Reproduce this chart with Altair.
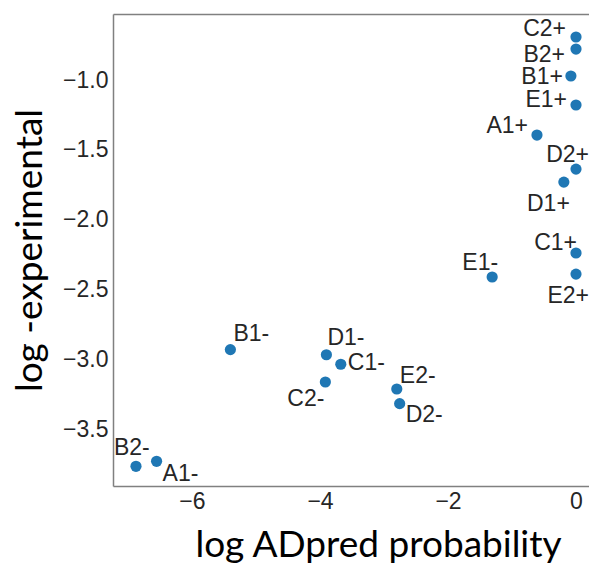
import altair as alt
import pandas as pd

# ---- data ----
labels = ["C2+", "B2+", "B1+", "E1+", "A1+", "D2+", "D1+", "C1+", "E2+",
          "E1-", "B1-", "D1-", "C1-", "C2-", "E2-", "D2-", "B2-", "A1-"]
adpred = [0.0, 0.0, -0.08, 0.0, -0.61, 0.0, -0.19, 0.0, 0.0,
          -1.31, -5.40, -3.90, -3.675, -3.916, -2.80, -2.755, -6.875, -6.553]
experimental = [-0.692, -0.778, -0.971, -1.179, -1.394, -1.638, -1.731, -2.239, -2.390,
                -2.411, -2.931, -2.968, -3.036, -3.163, -3.213, -3.318, -3.767, -3.731]

x_ticks = [-6, -4, -2, 0]
y_ticks = [-3.5, -3.0, -2.5, -2.0, -1.5, -1.0]

# label placement relative to each point (align, dx px, dy px to text baseline)
label_align = ["right", "right", "right", "right", "right", "right", "right", "right", "right",
               "right", "left", "left", "left", "right", "left", "left", "left", "left"]
label_dx = [-10, -11, -8, -9, -9, 13, 6, 1, 13,
            6, 3, 1, 7, -1, 3, 6, -22, 6]
label_dy = [-1, 13, 8, 2, -2, -7, 29, -3, 29,
            -7, -9, -10, 6, 24, -6, 18, -11, 20]

df = pd.DataFrame({"label": labels, "x": adpred, "y": experimental})

xscale = alt.Scale(domain=[-7.234, 0.203], nice=False, zero=False)
yscale = alt.Scale(domain=[-3.908, -0.527], nice=False, zero=False)

AXIS_GRAY = "#808080"
TEXT_COLOR = "#262626"
LABEL_SIZE = 23

base = alt.Chart(df)

points = base.mark_circle(size=125, opacity=1, color="#1f77b4").encode(
    x=alt.X("x:Q", scale=xscale, axis=alt.Axis(
        orient="bottom", values=x_ticks, format="d", ticks=False, grid=False,
        domainColor=AXIS_GRAY, domainWidth=1.5,
        labelFont="Liberation Sans", labelFontSize=LABEL_SIZE, labelColor=TEXT_COLOR,
        labelPadding=4,
        title="log ADpred probability", titleFont="Lato", titleFontSize=37,
        titleFontWeight="normal", titleColor="black",
        titleX=265, titleY=70, titleAlign="center", titleBaseline="alphabetic")),
    y=alt.Y("y:Q", scale=yscale, axis=alt.Axis(
        orient="left", values=y_ticks, format=".1f", ticks=False, grid=False,
        domainColor=AXIS_GRAY, domainWidth=1.5,
        labelFont="Liberation Sans", labelFontSize=LABEL_SIZE, labelColor=TEXT_COLOR,
        labelPadding=5,
        title="log -experimental", titleFont="Lato", titleFontSize=37,
        titleFontWeight="normal", titleColor="black", titleAngle=270,
        titleX=-72, titleY=236, titleAlign="center", titleBaseline="alphabetic")),
)

top_line = base.mark_circle(opacity=0).encode(
    x=alt.X("x:Q", scale=xscale, axis=alt.Axis(
        orient="top", labels=False, ticks=False, grid=False, title=None,
        domainColor=AXIS_GRAY, domainWidth=1.5)),
    y=alt.Y("y:Q", scale=yscale, axis=None),
)

text_layers = []
for lab, al, dx, dy in zip(labels, label_align, label_dx, label_dy):
    text_layers.append(
        base.transform_filter(alt.datum.label == lab).mark_text(
            align=al, baseline="alphabetic", dx=dx, dy=dy,
            font="Liberation Sans", fontSize=LABEL_SIZE, color=TEXT_COLOR,
        ).encode(
            x=alt.X("x:Q", scale=xscale, axis=None),
            y=alt.Y("y:Q", scale=yscale, axis=None),
            text="label:N",
        )
    )

chart = alt.layer(points, top_line, *text_layers).resolve_axis(
    x="independent", y="independent"
).properties(
    width=476, height=472,
    padding={"left": 105, "top": 6, "right": 0, "bottom": 78},
    autosize=alt.AutoSizeParams(type="none"),
    background="white",
).configure_view(stroke=None)

chart.save("out.html", embed_options={"renderer": "svg", "actions": False})
